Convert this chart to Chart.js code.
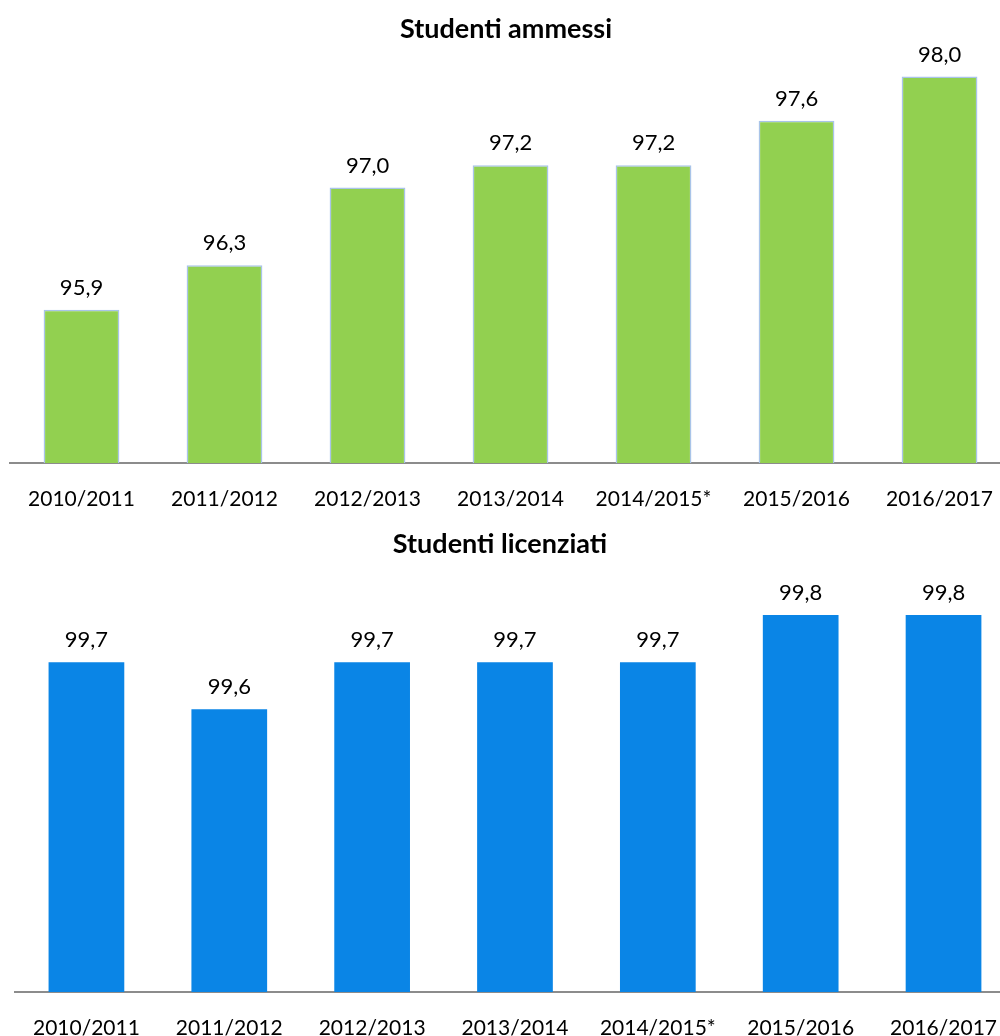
<!DOCTYPE html>
<html lang="it">
<head>
    <meta charset="UTF-8">
    <title>Studenti ammessi e licenziati</title>
    <script src="https://cdn.jsdelivr.net/npm/chart.js@4.4.1/dist/chart.umd.min.js"></script>
    <style>
        html, body { margin: 0; padding: 0; background: #fff; overflow: hidden; }
        body { width: 1000px; height: 1036px; position: relative; font-family: Lato, "Liberation Sans", sans-serif; }
        .box { position: absolute; left: 0; }
        #box1 { top: 0; height: 515px; width: 1017px; }
        #box2 { top: 505px; height: 545px; width: 1021px; }
        .titolo { position: absolute; left: 0; font-size: 27px; font-weight: bold; line-height: 32px; text-align: center; color: #000; z-index: 2; }
        #t1 { top: 12px; width: 1012px; }
        #t2 { top: 527px; width: 1000px; }
    </style>
</head>
<body>
    <div class="titolo" id="t1">Studenti ammessi</div>
    <div class="titolo" id="t2">Studenti licenziati</div>
    <div class="box" id="box1"><canvas id="ammessi"></canvas></div>
    <div class="box" id="box2"><canvas id="licenziati"></canvas></div>
<script>
    // anni scolastici
    var labels = ['2010/2011', '2011/2012', '2012/2013', '2013/2014', '2014/2015*', '2015/2016', '2016/2017'];
    // percentuali
    var ammessi = [95.9, 96.3, 97.0, 97.2, 97.2, 97.6, 98.0];
    var licenziati = [99.7, 99.6, 99.7, 99.7, 99.7, 99.8, 99.8];

    var FONT = 'Lato, "Liberation Sans", sans-serif';

    // scrive il valore sopra ogni barra
    var valueLabels = {
        id: 'valueLabels',
        afterDatasetsDraw: function (chart) {
            var ctx = chart.ctx;
            var meta = chart.getDatasetMeta(0);
            var data = chart.data.datasets[0].data;
            ctx.save();
            ctx.font = '22px ' + FONT;
            ctx.fillStyle = '#000';
            ctx.textAlign = 'center';
            ctx.textBaseline = 'middle';
            for (var i = 0; i < meta.data.length; i++) {
                var bar = meta.data[i];
                ctx.fillText(data[i].toFixed(1).replace('.', ','), bar.x, bar.y - 22);
            }
            ctx.restore();
        }
    };

    function makeChart(id, values, color, border, yMin, yMax, padLeft, padTop, axisH) {
        var ctx = document.getElementById(id).getContext('2d');
        return new Chart(ctx, {
            type: 'bar',
            data: {
                labels: labels,
                datasets: [{
                    data: values,
                    backgroundColor: color,
                    borderColor: border,
                    borderWidth: border ? 1.5 : 0,
                    barPercentage: 0.53,
                    categoryPercentage: 1
                }]
            },
            options: {
                responsive: true,
                maintainAspectRatio: false,
                animation: false,
                layout: { padding: { left: padLeft, right: 0, top: padTop, bottom: 0 } },
                plugins: {
                    legend: { display: false },
                    tooltip: { enabled: false }
                },
                scales: {
                    x: {
                        grid: { display: false, drawTicks: false },
                        border: { display: true, color: '#8c8c8c', width: 2 },
                        ticks: { color: '#000', font: { family: FONT, size: 21 }, padding: 24, maxRotation: 0, autoSkip: false },
                        afterFit: function (scale) { scale.height = axisH; }
                    },
                    y: {
                        display: false,
                        min: yMin,
                        max: yMax
                    }
                }
            },
            plugins: [valueLabels]
        });
    }

    makeChart('ammessi', ammessi, '#92D050', '#A9C4E8', 94.52, 98.22, 10, 52, 52);
    makeChart('licenziati', licenziati, '#0A85E6', null, 99.0, 99.9, 15, 63, 58);
</script>
</body>
</html>
